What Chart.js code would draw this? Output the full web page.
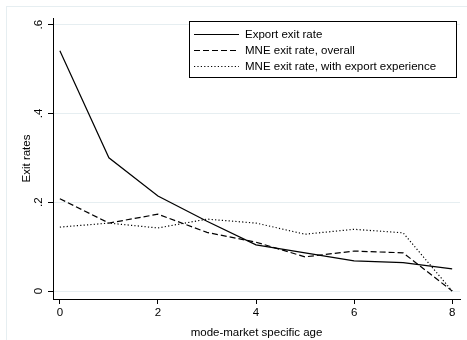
<!DOCTYPE html>
<html>
<head>
<meta charset="utf-8">
<script src="https://cdn.jsdelivr.net/npm/chart.js@4/dist/chart.umd.min.js"></script>
<style>
  html, body { margin: 0; padding: 0; background: #fff; }
  #wrap { width: 467px; height: 340px; }
</style>
</head>
<body>
<div id="wrap"><canvas id="exitChart" width="467" height="340"></canvas></div>
<script>
// Data
const ages = [0, 1, 2, 3, 4, 5, 6, 7, 8];
const exportExit = [0.541, 0.300, 0.214, 0.157, 0.104, 0.086, 0.068, 0.064, 0.050];
const mneOverall = [0.208, 0.153, 0.173, 0.132, 0.110, 0.077, 0.090, 0.086, 0.000];
const mneWithExport = [0.144, 0.153, 0.142, 0.162, 0.153, 0.128, 0.139, 0.131, 0.000];

const xTicks = [0, 2, 4, 6, 8];
const yTicks = [0, 0.2, 0.4, 0.6];
const yTickLabels = ["0", ".2", ".4", ".6"];

const FONT = "'Liberation Sans', Arial, Helvetica, sans-serif";
const GRID = "#e6eef1";

const toPoints = vals => ages.map((a, i) => ({ x: a, y: vals[i] }));

// Stata-style faint outer frame
const outerFrame = {
  id: "outerFrame",
  beforeDraw(chart) {
    const ctx = chart.ctx;
    ctx.save();
    ctx.strokeStyle = GRID;
    ctx.lineWidth = 1;
    ctx.strokeRect(6.5, 6.5, chart.width + 10, chart.height + 10);
    ctx.restore();
  }
};

// Boxed legend inside the plot, top right
const boxLegend = {
  id: "boxLegend",
  afterDraw(chart) {
    const ctx = chart.ctx;
    const left = 189.5, top = 21.5, right = 456.5, bottom = 77.5;
    ctx.save();
    ctx.fillStyle = "#fff";
    ctx.fillRect(left, top, right - left, bottom - top);
    ctx.strokeStyle = "#000";
    ctx.lineWidth = 1;
    ctx.strokeRect(left, top, right - left, bottom - top);
    ctx.font = "11.5px " + FONT;
    ctx.textBaseline = "middle";
    ctx.fillStyle = "#000";
    chart.data.datasets.forEach((ds, i) => {
      const y = 34 + i * 16;
      ctx.beginPath();
      ctx.setLineDash(ds.borderDash || []);
      ctx.lineWidth = ds.borderWidth;
      ctx.moveTo(194, y + 0.5);
      ctx.lineTo(239, y + 0.5);
      ctx.stroke();
      ctx.setLineDash([]);
      ctx.fillText(ds.label, 245, y + 0.5);
    });
    ctx.restore();
  }
};

const ctx = document.getElementById("exitChart").getContext("2d");
new Chart(ctx, {
  type: "line",
  data: {
    datasets: [
      {
        label: "Export exit rate",
        data: toPoints(exportExit),
        borderColor: "#000",
        borderWidth: 1.2,
        borderDash: []
      },
      {
        label: "MNE exit rate, overall",
        data: toPoints(mneOverall),
        borderColor: "#000",
        borderWidth: 1.2,
        borderDash: [6, 3]
      },
      {
        label: "MNE exit rate, with export experience",
        data: toPoints(mneWithExport),
        borderColor: "#000",
        borderWidth: 1.2,
        borderDash: [1.2, 2.2]
      }
    ]
  },
  options: {
    responsive: false,
    animation: false,
    pointRadius: 0,
    elements: { point: { radius: 0 }, line: { tension: 0 } },
    layout: { padding: { top: 18, right: 7, left: 0, bottom: 0 } },
    plugins: {
      legend: { display: false },
      tooltip: { enabled: false }
    },
    scales: {
      x: {
        type: "linear",
        min: -0.14,
        max: 8.16,
        afterFit: s => { s.height = 41; },
        afterBuildTicks: s => { s.ticks = xTicks.map(v => ({ value: v })); },
        grid: { drawOnChartArea: false, tickColor: "#000", tickLength: 5 },
        border: { color: "#000", width: 1 },
        ticks: { color: "#000", font: { family: FONT, size: 11.5 }, padding: 2, maxRotation: 0 },
        title: {
          display: true,
          text: "mode-market specific age",
          color: "#000",
          font: { family: FONT, size: 11.5 },
          padding: { top: 0, bottom: 0 }
        }
      },
      y: {
        min: -0.018,
        max: 0.615,
        afterFit: s => { s.width = 53; },
        afterBuildTicks: s => { s.ticks = yTicks.map(v => ({ value: v })); },
        grid: { color: GRID, tickColor: "#000", tickLength: 5 },
        border: { color: "#000", width: 1 },
        ticks: {
          color: "#000",
          font: { family: FONT, size: 11.5 },
          minRotation: 90,
          maxRotation: 90,
          crossAlign: "center",
          padding: 4,
          callback: (v, i) => yTickLabels[yTicks.indexOf(Math.round(v * 10) / 10)]
        },
        title: {
          display: true,
          text: "Exit rates",
          color: "#000",
          font: { family: FONT, size: 11.5 },
          padding: { top: 20, bottom: 0 }
        }
      }
    }
  },
  plugins: [outerFrame, boxLegend]
});
</script>
</body>
</html>
